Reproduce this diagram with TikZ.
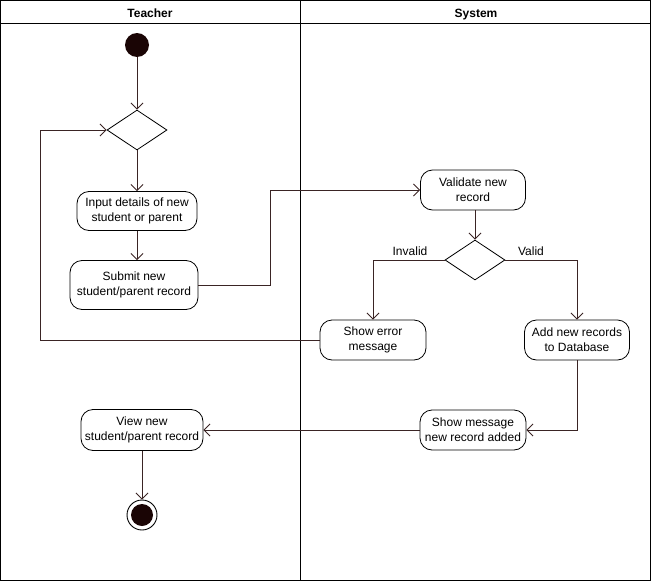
\documentclass[tikz,border=0pt]{standalone}
\usepackage{fontspec}
\setmainfont{Liberation Sans}
\usetikzlibrary{arrows.meta,shapes.geometric,calc}
\definecolor{flow}{HTML}{3A2424}
\definecolor{dot}{HTML}{1A0505}
\begin{document}
\begin{tikzpicture}[x=1pt,y=-1pt,
  every node/.style={font=\fontsize{12}{15}\selectfont},
  action/.style={draw=black,rounded corners=12pt,fill=white,inner sep=0pt,
    align=center,line width=0.8pt},
  choice/.style={draw=black,diamond,fill=white,inner sep=0pt,
    minimum width=60pt,minimum height=40pt,line width=0.8pt},
  flowline/.style={draw=flow,line width=0.9pt,
    -{Straight Barb[length=6pt,width=12pt,line width=0.9pt]}},
  guard/.style={anchor=base,inner sep=0pt},
  header/.style={anchor=base,inner sep=0pt,font=\fontsize{12}{14}\selectfont\bfseries},
  lane/.style={draw=black,line width=1pt}]
\useasboundingbox (0,0) rectangle (651,581);
% swimlanes
\draw[lane] (0.5,0.5) rectangle (650.5,580.5);
\draw[lane] (0.5,23) -- (650.5,23);
\draw[lane] (300,0.5) -- (300,580.5);
\node[header] (hTeacher) at (150,17) {Teacher};
\node[header] (hSystem) at (476,17) {System};

% teacher lane
\node[circle,fill=dot,minimum size=24pt,inner sep=0pt] (start) at (137,45) {};
\node[choice] (d1) at (137,130) {};
\node[action,minimum width=120pt,minimum height=39pt] (input) at (137,211)
  {Input details of new\\student or parent};
\node[action,minimum width=128pt,minimum height=49pt] (submit) at (134,285)
  {Submit new\\student/parent record};
\node[action,minimum width=122pt,minimum height=41pt] (view) at (142,430)
  {View new\\student/parent record};
\node[circle,draw=black,line width=0.9pt,fill=white,minimum size=30pt,inner sep=0pt] (endo) at (142,515) {};
\node[circle,fill=dot,minimum size=22pt,inner sep=0pt] (endi) at (142,515) {};

% system lane
\node[action,minimum width=105pt,minimum height=40pt] (validate) at (473,190)
  {Validate new\\record};
\node[choice] (d2) at (475,260) {};
\node[action,minimum width=106pt,minimum height=40pt] (error) at (373,340)
  {Show error\\message};
\node[action,minimum width=105pt,minimum height=40pt] (add) at (577,340)
  {Add new records\\to Database};
\node[action,minimum width=106pt,minimum height=40pt] (show) at (473,430)
  {Show message\\new record added};

% guards of the decision
\node[guard] (lInvalid) at (410,255) {Invalid};
\node[guard] (lValid) at (531,255) {Valid};

% connectors
\coordinate (loopx) at (40,0);
\coordinate (subx) at (270,0);
\draw[flowline] (start) -- (d1.north);
\draw[flowline] (d1.south) -- (input.north);
\draw[flowline] (input.south) -- (input.south |- submit.north);
\draw[flowline] (submit.east) -- (subx |- submit.east) -- (subx |- validate.west) -- (validate.west);
\draw[flowline] (validate.south -| d2.north) -- (d2.north);
\draw[flowline] (d2.west) -- (error.north |- d2.west) -- (error.north);
\draw[flowline] (d2.east) -- (add.north |- d2.east) -- (add.north);
\draw[flowline] (error.west) -- (loopx |- error.west) -- (loopx |- d1.west) -- (d1.west);
\draw[flowline] (add.south) -- (add.south |- show.east) -- (show.east);
\draw[flowline] (show.west) -- (view.east);
\draw[flowline] (view.south) -- (endo.north);
\end{tikzpicture}
\end{document}
